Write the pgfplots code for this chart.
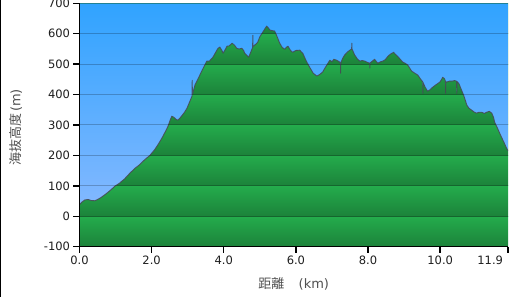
\documentclass[border=0pt]{standalone}
\usepackage{pgfplots}
\pgfplotsset{compat=1.18}
\usepackage{pgfplotstable}
\usepackage{fontspec}
\setmainfont{DejaVu Sans}
\newfontfamily\cjk{Noto Sans CJK JP}
\definecolor{skytop}{RGB}{48,163,255}
\definecolor{skybot}{RGB}{130,184,255}
\definecolor{bandlight}{RGB}{36,172,76}
\definecolor{banddark}{RGB}{28,130,58}
\definecolor{edge}{RGB}{70,70,80}
\definecolor{labelgray}{RGB}{80,80,80}
\definecolor{tickgray}{RGB}{30,30,30}

\pgfplotstableread{
x y
0.00 38
0.05 45
0.15 54
0.25 55
0.32 52
0.42 51
0.50 55
0.60 62
0.75 75
0.90 90
0.98 99
1.10 108
1.25 123
1.40 142
1.54 158
1.65 168
1.80 185
1.95 200
2.09 220
2.20 240
2.30 260
2.37 276
2.45 295
2.52 318
2.56 329
2.62 325
2.68 318
2.73 316
2.80 325
2.90 340
2.98 355
3.05 375
3.12 395
3.125 447
3.13 400
3.20 431
3.30 455
3.40 480
3.53 510
3.60 510
3.70 523
3.78 540
3.84 552
3.89 556
3.95 545
3.98 536
4.04 548
4.09 559
4.15 560
4.23 569
4.30 562
4.36 552
4.42 550
4.50 552
4.55 545
4.58 536
4.65 528
4.69 523
4.75 540
4.80 555
4.805 595
4.81 557
4.88 565
4.94 572
5.00 590
5.08 605
5.15 618
5.19 625
5.23 620
5.28 612
5.35 610
5.41 609
5.48 590
5.55 569
5.62 555
5.69 549
5.74 556
5.78 559
5.85 545
5.91 539
6.00 545
6.11 546
6.15 540
6.19 536
6.28 512
6.38 490
6.48 470
6.58 461
6.66 466
6.74 474
6.82 490
6.94 513
7.00 508
7.05 516
7.13 513
7.20 508
7.235 503
7.24 470
7.245 505
7.30 520
7.35 530
7.45 542
7.545 550
7.55 569
7.555 550
7.63 530
7.70 518
7.77 510
7.84 512
7.91 510
7.98 506
8.045 503
8.05 487
8.055 504
8.12 510
8.18 516
8.27 503
8.35 508
8.41 510
8.48 515
8.55 526
8.62 533
8.71 539
8.76 532
8.82 526
8.90 515
8.96 507
9.03 503
9.10 497
9.16 486
9.21 477
9.30 470
9.38 464
9.45 452
9.515 442
9.52 404
9.525 440
9.58 425
9.65 411
9.72 416
9.79 424
9.88 432
9.99 441
10.04 450
10.07 457
10.12 452
10.145 444
10.15 404
10.155 443
10.18 441
10.25 444
10.32 444
10.40 446
10.455 444
10.46 404
10.465 443
10.52 436
10.57 421
10.65 398
10.70 380
10.74 365
10.80 355
10.87 349
10.95 342
11.01 339
11.08 342
11.15 342
11.22 338
11.29 342
11.36 345
11.43 339
11.48 325
11.51 309
11.58 292
11.65 273
11.72 255
11.78 240
11.84 224
11.88 215
}\prof

\begin{document}
\begin{tikzpicture}[x=1pt,y=1pt]
\path[use as bounding box] (0,0) rectangle (512,297);
\fill[white] (0,0) rectangle (512,297);
\draw[black, line width=1.2pt] (0.6,0) -- (0.6,297);
\begin{axis}[
  at={(79.5pt,50.3pt)}, anchor=south west,
  scale only axis, width=428.5pt, height=243.4pt,
  xmin=0, xmax=11.88, ymin=-100, ymax=700,
  axis on top,
  axis lines*=left,
  axis line style={black, line width=1.6pt},
  tick align=outside,
  major tick length=6pt,
  tick style={black, line width=1.4pt},
  xtick={0,2,4,6,8,10,11.88},
  xticklabels={0.0,2.0,4.0,6.0,8.0,10.0,\llap{11.9\hspace{5pt}}},
  ytick={-100,0,100,200,300,400,500,600,700},
  yticklabels={-100,0,100,200,300,400,500,600,700},
  ymajorgrids,
  grid style={black, opacity=0.22, line width=1pt},
  tick label style={font=\fontsize{11.5}{13}\selectfont, color=tickgray},
  xlabel={{\cjk 距離}\hspace{1.1em}(km)},
  ylabel={{\cjk 海抜高度}\,(m)},
  xlabel style={at={(axis description cs:0.5,-0.153)}, anchor=center, font=\fontsize{13}{15}\selectfont, color=labelgray},
  ylabel style={at={(axis description cs:-0.149,0.49)}, anchor=center, font=\fontsize{13}{15}\selectfont, color=labelgray},
]
\fill[top color=bandlight, bottom color=banddark] (axis cs:0,-100) rectangle (axis cs:11.88,0);
\fill[top color=bandlight, bottom color=banddark] (axis cs:0,0) rectangle (axis cs:11.88,100);
\fill[top color=bandlight, bottom color=banddark] (axis cs:0,100) rectangle (axis cs:11.88,200);
\fill[top color=bandlight, bottom color=banddark] (axis cs:0,200) rectangle (axis cs:11.88,300);
\fill[top color=bandlight, bottom color=banddark] (axis cs:0,300) rectangle (axis cs:11.88,400);
\fill[top color=bandlight, bottom color=banddark] (axis cs:0,400) rectangle (axis cs:11.88,500);
\fill[top color=bandlight, bottom color=banddark] (axis cs:0,500) rectangle (axis cs:11.88,600);
\fill[top color=bandlight, bottom color=banddark] (axis cs:0,600) rectangle (axis cs:11.88,700);
\addplot[draw=none, top color=skytop, bottom color=skybot] table {\prof} -- (axis cs:11.88,700) -- (axis cs:0,700) -- cycle;
\addplot[draw=edge, line width=0.9pt, opacity=0.85, line join=round] table {\prof};
\end{axis}
\end{tikzpicture}
\end{document}
